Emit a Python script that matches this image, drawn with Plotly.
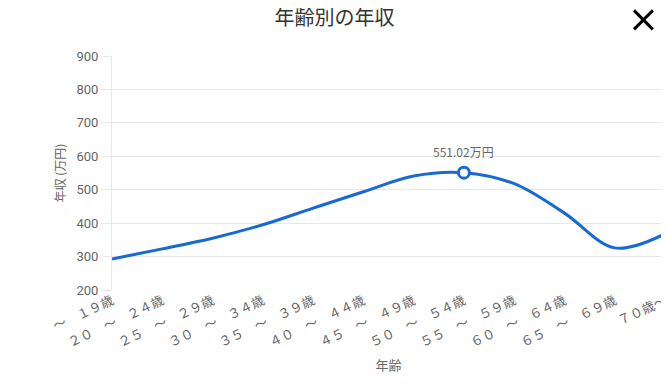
import plotly.graph_objects as go

# ---- data ----
age_groups = ["～　１９歳", "２０　～　２４歳", "２５　～　２９歳", "３０　～　３４歳",
              "３５　～　３９歳", "４０　～　４４歳", "４５　～　４９歳", "５０　～　５４歳",
              "５５　～　５９歳", "６０　～　６４歳", "６５　～　６９歳", "７０歳～"]
income = [293, 323, 355, 395, 445, 494, 541, 551.02, 518, 430, 326, 368]
y_ticks = [200, 300, 400, 500, 600, 700, 800, 900]

title_text = "年齢別の年収"
x_title = "年齢"
y_title = "年収 (万円)"

peak_i = max(range(len(income)), key=lambda i: income[i])

BLUE = "#1769d6"
GRAY = "#666666"
GRID = "#e8e8e8"
JP = "Noto Sans CJK JP, Noto Sans, sans-serif"

W, H = 661, 377  # page body has an 8px margin

fig = go.Figure()
fig.add_trace(go.Scatter(
    x=age_groups, y=income, mode="lines",
    line=dict(color=BLUE, width=3, shape="spline", smoothing=1.0),
    hoverinfo="skip", showlegend=False))
fig.add_trace(go.Scatter(
    x=[age_groups[peak_i]], y=[income[peak_i]], mode="markers",
    marker=dict(size=11, color="white", line=dict(color=BLUE, width=3)),
    showlegend=False))

fig.add_annotation(x=age_groups[peak_i], y=income[peak_i],
                   text=f"{income[peak_i]:.2f}万円", showarrow=False,
                   yanchor="bottom", yshift=11,
                   font=dict(family=JP, size=12, color=GRAY))

# close icon
fig.add_shape(type="line", xref="paper", yref="paper",
              x0=0.9439, x1=0.978, y0=1.195, y1=1.114,
              line=dict(color="black", width=3))
fig.add_shape(type="line", xref="paper", yref="paper",
              x0=0.9439, x1=0.978, y0=1.114, y1=1.195,
              line=dict(color="black", width=3))

fig.update_layout(
    width=W, height=H,
    margin=dict(l=104, r=4, t=48, b=95, autoexpand=False),
    paper_bgcolor="white", plot_bgcolor="white",
    title=dict(text=title_text, x=(334.5 - 112) / 553, xref="paper", xanchor="center",
               y=1 - 10 / H, yref="container", yanchor="middle",
               font=dict(family=JP, size=20, color="#333333")),
    font=dict(family=JP, color=GRAY),
)

fig.update_xaxes(
    type="category", range=[0, len(age_groups) - 1],
    tickangle=-25, tickfont=dict(family=JP, size=13, color=GRAY),
    showgrid=False, showline=False, ticks="", automargin=False,
    title=dict(text=x_title, font=dict(family=JP, size=13, color=GRAY), standoff=10),
)
fig.update_yaxes(
    range=[200, 900], tickvals=y_ticks, automargin=False,
    tickfont=dict(family="Roboto, Liberation Sans, sans-serif", size=13, color=GRAY),
    showgrid=True, gridcolor=GRID, gridwidth=1,
    showline=True, linecolor=GRID, linewidth=1,
    ticks="outside", ticklen=10, tickcolor=GRID,
    zeroline=False,
    title=dict(text=y_title, font=dict(family=JP, size=12, color=GRAY), standoff=8),
)

fig.write_html("out.html")
